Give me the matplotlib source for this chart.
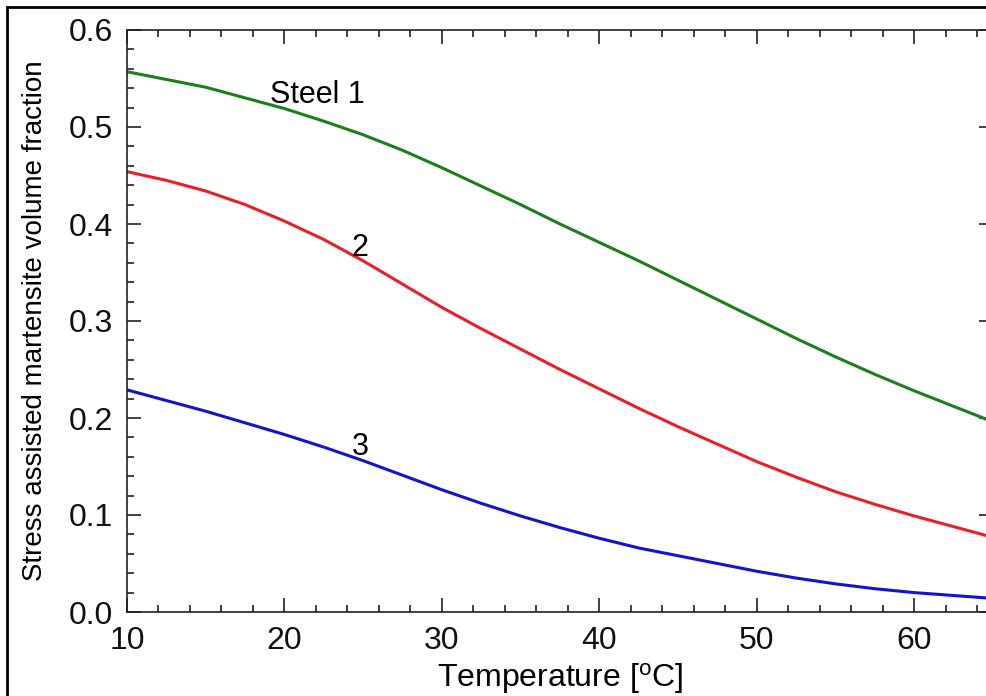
import matplotlib
matplotlib.use("Agg")
import matplotlib.pyplot as plt
from matplotlib.patches import Rectangle
from matplotlib.ticker import MultipleLocator

plt.rcParams['font.family'] = ['Liberation Sans', 'DejaVu Sans']
plt.rcParams['mathtext.fontset'] = 'custom'
plt.rcParams['mathtext.rm'] = 'Liberation Sans'
plt.rcParams['mathtext.default'] = 'regular'

# temperature [C] and martensite volume fraction
temp = [10, 12.5, 15, 17.5, 20, 22.5, 25, 27.5, 30, 32.5, 35, 37.5,
        40, 42.5, 45, 47.5, 50, 52.5, 55, 57.5, 60, 62.5, 65]
steel1 = [0.557, 0.549, 0.541, 0.530, 0.519, 0.506, 0.492, 0.476, 0.458, 0.439, 0.420, 0.400,
          0.381, 0.362, 0.342, 0.322, 0.302, 0.282, 0.263, 0.245, 0.228, 0.212, 0.196]
steel2 = [0.454, 0.445, 0.434, 0.420, 0.403, 0.384, 0.362, 0.338, 0.314, 0.292, 0.271, 0.250,
          0.230, 0.210, 0.191, 0.173, 0.155, 0.139, 0.124, 0.111, 0.099, 0.088, 0.077]
steel3 = [0.229, 0.218, 0.207, 0.195, 0.183, 0.170, 0.156, 0.141, 0.126, 0.112, 0.099, 0.087,
          0.076, 0.066, 0.058, 0.050, 0.042, 0.035, 0.029, 0.024, 0.020, 0.017, 0.014]

labels = ['Steel 1', '2', '3']
label_pos = [(19.1, 0.533), (24.8, 0.375), (24.8, 0.170)]

fig = plt.figure(figsize=(9.87, 6.96), dpi=100)
ax = fig.add_axes([127 / 987, 84 / 696, 866 / 987, 582 / 696])

ax.plot(temp, steel1, color='#1b7f1b', lw=2.2)
ax.plot(temp, steel2, color='#e8202a', lw=2.2)
ax.plot(temp, steel3, color='#1414cc', lw=2.2)

for txt, (x, y), ha in zip(labels, label_pos, ['left', 'center', 'center']):
    ax.text(x, y, txt, fontsize=22, ha=ha, va='center')

ax.set_xlim(10, 65)
ax.set_ylim(0, 0.6)
ax.xaxis.set_major_locator(MultipleLocator(10))
ax.xaxis.set_minor_locator(MultipleLocator(2))
ax.yaxis.set_major_locator(MultipleLocator(0.1))
ax.yaxis.set_minor_locator(MultipleLocator(0.02))
ax.yaxis.set_major_formatter(plt.FuncFormatter(lambda v, p: f'{v:.1f}'))

ax.tick_params(which='both', direction='in', top=True, right=True,
               labelsize=23, width=1.2, color='#222222', labelcolor='#111111')
ax.tick_params(which='major', length=10, pad=10)
ax.tick_params(which='minor', length=5)
for s in ax.spines.values():
    s.set_linewidth(1.2)
    s.set_color('#222222')

ax.set_xlabel('Temperature [$^{o}$C]', fontsize=23, labelpad=4)
ax.set_ylabel('Stress assisted martensite volume fraction', fontsize=20, labelpad=15)

# outer frame around the figure (cropped on the right and bottom)
fig.patches.append(Rectangle((7 / 987, -0.1), 1.2, 1.1 - 7 / 696,
                             transform=fig.transFigure, fill=False,
                             lw=2, ec='black'))

fig.savefig('out.png', dpi=100)
